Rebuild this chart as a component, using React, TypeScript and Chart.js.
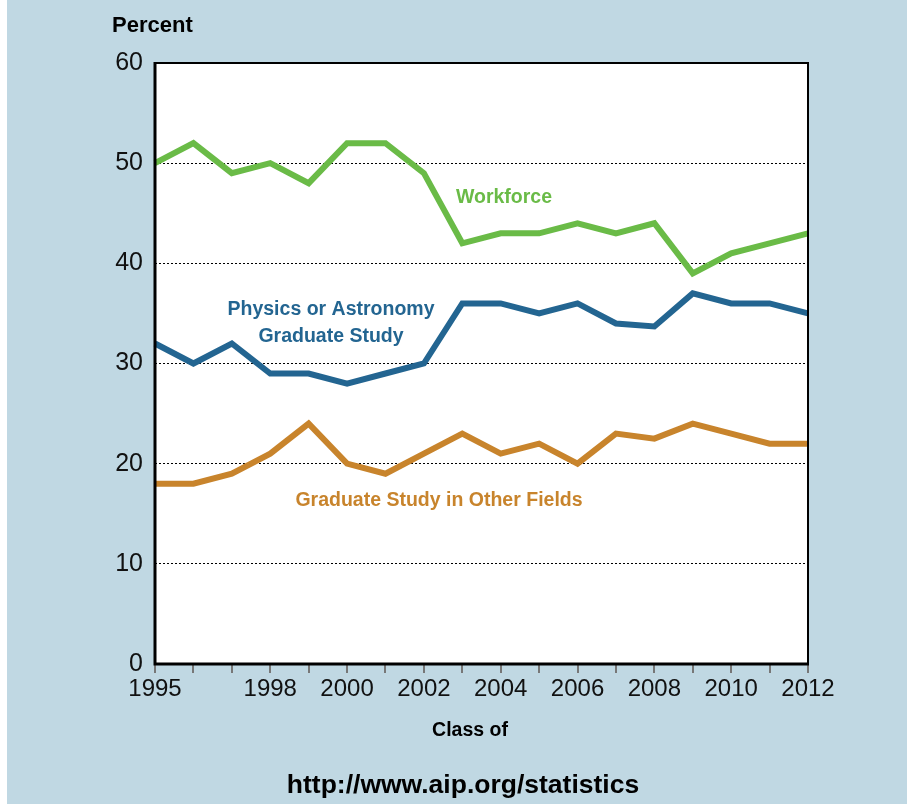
import React, { useEffect, useRef } from "react";
import { Chart, registerables } from "chart.js";

Chart.register(...registerables);

const years = [1995, 1996, 1997, 1998, 1999, 2000, 2001, 2002, 2003, 2004, 2005, 2006, 2007, 2008, 2009, 2010, 2011, 2012];
const workforce = [50, 52, 49, 50, 48, 52, 52, 49, 42, 43, 43, 44, 43, 44, 39, 41, 42, 43];
const physicsGrad = [32, 30, 32, 29, 29, 28, 29, 30, 36, 36, 35, 36, 34, 33.7, 37, 36, 36, 35];
const otherGrad = [18, 18, 19, 21, 24, 20, 19, 21, 23, 21, 22, 20, 23, 22.5, 24, 23, 22, 22];
const shownYearLabels = [1995, 1998, 2000, 2002, 2004, 2006, 2008, 2010, 2012];
const yTicks = [0, 10, 20, 30, 40, 50, 60];

const GREEN = "#6abb47";
const BLUE = "#236591";
const ORANGE = "#c8842c";
const FONT = "'Liberation Sans', Arial, sans-serif";

const textPlugin = {
  id: "textPlugin",
  beforeDraw(chart: any) {
    const { ctx, chartArea } = chart;
    ctx.save();
    ctx.fillStyle = "#ffffff";
    ctx.fillRect(chartArea.left, chartArea.top, chartArea.right - chartArea.left, chartArea.bottom - chartArea.top);
    ctx.restore();
  },
  afterDraw(chart: any) {
    const { ctx, chartArea } = chart;
    const { left, right, top, bottom } = chartArea;
    ctx.save();
    ctx.strokeStyle = "#000";
    ctx.lineWidth = 2;
    ctx.beginPath();
    ctx.moveTo(left, top);
    ctx.lineTo(right, top);
    ctx.lineTo(right, bottom);
    ctx.stroke();
    ctx.lineWidth = 3;
    ctx.beginPath();
    ctx.moveTo(left, top - 1);
    ctx.lineTo(left, bottom);
    ctx.lineTo(right + 1, bottom);
    ctx.stroke();

    ctx.textBaseline = "alphabetic";
    ctx.fillStyle = "#000";
    ctx.font = `bold 22px ${FONT}`;
    ctx.textAlign = "left";
    ctx.fillText("Percent", 105, 32);

    ctx.textAlign = "center";
    ctx.font = `bold 19.5px ${FONT}`;
    ctx.fillText("Class of", 463, 736);

    ctx.font = `bold 26.5px ${FONT}`;
    ctx.fillText("http://www.aip.org/statistics", 456, 793);

    ctx.font = `bold 19.5px ${FONT}`;
    ctx.fillStyle = GREEN;
    ctx.fillText("Workforce", 497, 203);
    ctx.fillStyle = BLUE;
    ctx.fillText("Physics or Astronomy", 324, 315);
    ctx.fillText("Graduate Study", 324, 342);
    ctx.fillStyle = ORANGE;
    ctx.fillText("Graduate Study in Other Fields", 432, 506);
    ctx.restore();
  },
};

export default function App() {
  const ref = useRef<HTMLCanvasElement>(null);
  useEffect(() => {
    if (!ref.current) return;
    const mk = (vals: number[]) => years.map((yr, i) => ({ x: yr, y: vals[i] }));
    const ds = (label: string, vals: number[], color: string) => ({
      label,
      data: mk(vals),
      borderColor: color,
      backgroundColor: color,
      borderWidth: 6,
      pointRadius: 0,
      tension: 0,
      borderJoinStyle: "miter" as const,
      borderCapStyle: "butt" as const,
      clip: false as any,
    });
    const chart = new Chart(ref.current, {
      type: "line",
      data: {
        datasets: [
          ds("Workforce", workforce, GREEN),
          ds("Physics or Astronomy Graduate Study", physicsGrad, BLUE),
          ds("Graduate Study in Other Fields", otherGrad, ORANGE),
        ],
      },
      options: {
        animation: false,
        responsive: false,
        devicePixelRatio: 1,
        layout: { padding: { left: 0, right: 99, top: 63, bottom: 0 } },
        plugins: { legend: { display: false }, tooltip: { enabled: false }, title: { display: false } },
        scales: {
          x: {
            type: "linear",
            min: years[0],
            max: years[years.length - 1],
            afterFit: (s: any) => {
              s.height = 140;
            },
            afterBuildTicks: (s: any) => {
              s.ticks = years.map((v) => ({ value: v }));
            },
            ticks: {
              autoSkip: false,
              maxRotation: 0,
              padding: 2,
              color: "#111",
              font: { family: FONT, size: 24 },
              callback: (v: any) => (shownYearLabels.includes(Number(v)) ? String(v) : ""),
            },
            grid: { display: true, drawOnChartArea: false, drawTicks: true, tickLength: 9, color: "#777", lineWidth: 2 },
            border: { display: false },
          },
          y: {
            min: 0,
            max: 60,
            afterFit: (s: any) => {
              s.width = 148;
            },
            afterBuildTicks: (s: any) => {
              s.ticks = yTicks.map((v) => ({ value: v }));
            },
            ticks: {
              padding: 12,
              color: "#111",
              font: { family: FONT, size: 25 },
              callback: (v: any) => String(v),
            },
            grid: { display: true, drawTicks: false, color: "#000", lineWidth: 1 },
            border: { display: false, dash: [2, 2] },
          },
        },
      },
      plugins: [textPlugin],
    });
    return () => chart.destroy();
  }, []);
  return (
    <div style={{ position: "absolute", left: 7, top: 0, width: 900, height: 804, background: "#c0d8e3" }}>
      <canvas ref={ref} width={900} height={804} style={{ width: 900, height: 804, display: "block" }} />
    </div>
  );
}
